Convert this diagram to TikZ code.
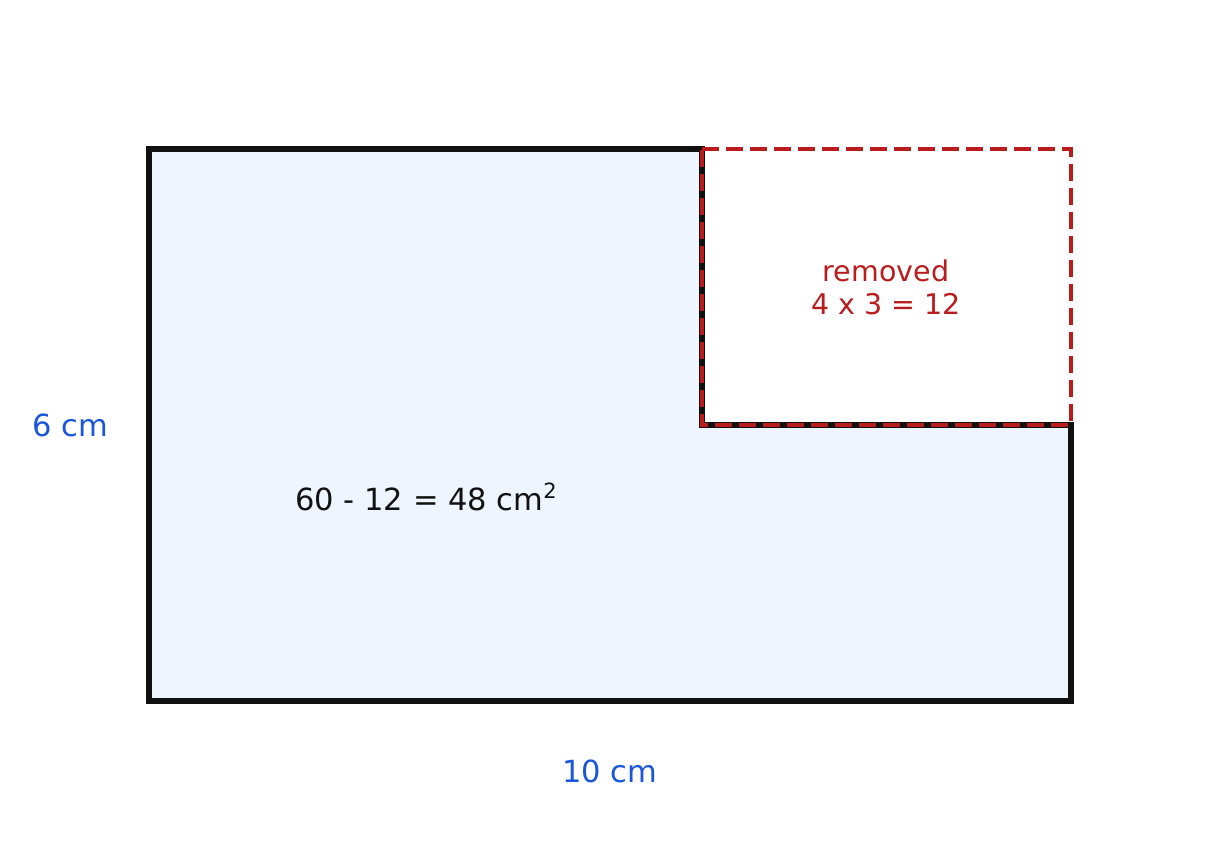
\documentclass[tikz,border=0pt]{standalone}
\usepackage{fontspec}
\setmainfont{DejaVu Sans}
\definecolor{fillblue}{HTML}{EEF5FE}
\definecolor{lblblue}{HTML}{1A56DB}
\definecolor{remred}{HTML}{B91C1C}
\definecolor{edgeblk}{HTML}{111111}
\tikzset{
  shapeline/.style={draw=edgeblk, line width=5.5pt, fill=fillblue, line join=miter},
  removedbox/.style={draw=remred, line width=4.5pt, dash pattern=on 17pt off 7pt},
  dimlabel/.style={text=lblblue, font=\fontsize{30.5}{36}\selectfont, inner sep=0pt},
  arealabel/.style={text=edgeblk, font=\fontsize{30.5}{36}\selectfont, inner sep=0pt},
  remlabel/.style={text=remred, font=\fontsize{28.5}{33}\selectfont, align=center, inner sep=0pt},
}
\begin{document}
\begin{tikzpicture}[x=1pt,y=-1pt]
\useasboundingbox (0,0) rectangle (1220,851);
\coordinate (a) at (149,149);
\coordinate (b) at (702,149);
\coordinate (c) at (702,425);
\coordinate (d) at (1071,425);
\coordinate (e) at (1071,701);
\coordinate (f) at (149,701);
\coordinate (g) at (1071,149);
\draw[shapeline] (a) -- (b) -- (c) -- (d) -- (e) -- (f) -- cycle;
\draw[removedbox] (b) -- (g) -- (d) -- (c) -- cycle;
\node[dimlabel] (w) at (70,425) {6 cm};
\node[dimlabel] (h) at (610,771) {10 cm};
\node[arealabel] (area) at (426,497) {60 - 12 = 48 cm\raisebox{0.42em}{\fontsize{21}{24}\selectfont 2}};
\node[remlabel] (rem) at (886,287) {removed\\4 x 3 = 12};
\end{tikzpicture}
\end{document}
